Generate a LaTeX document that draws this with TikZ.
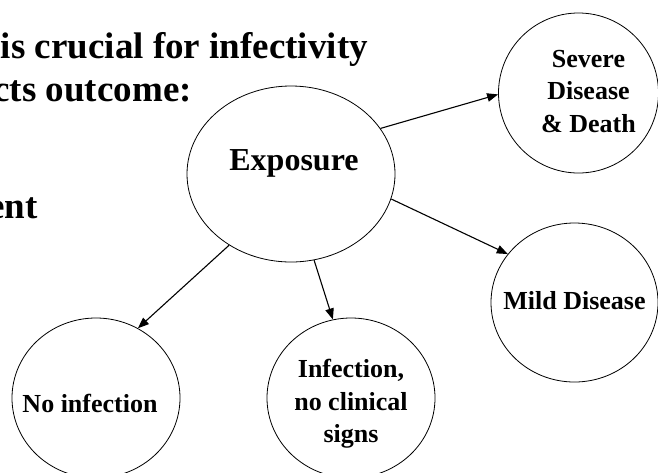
\documentclass[tikz,border=0pt]{standalone}
\usepackage{fontspec}
\setmainfont{Liberation Serif}
\usetikzlibrary{arrows.meta,shapes.geometric}
\tikzset{
	ring/.style={ellipse, draw, line width=0.8pt, inner sep=0pt, minimum width=168pt, minimum height=160pt},
	tag/.style={align=center, inner sep=0pt, font=\bfseries\fontsize{26}{32.5}\selectfont},
	heading/.style={anchor=base east, inner sep=0pt, font=\bfseries\fontsize{37}{43}\selectfont},
	leadsto/.style={-{Triangle[length=11pt,width=8.5pt]}, line width=1.1pt}
}

\begin{document}
\begin{tikzpicture}[x=1pt, y=-1pt]
	\useasboundingbox (0,0) rectangle (658,472);
	\node[heading] (head1) at (368,58) {is crucial for infectivity};
	\node[heading] (head2) at (192,101) {cts outcome:};
	\node[heading] (head3) at (38,218) {ent};

	\node[ring, minimum width=208pt, minimum height=176pt,
		label={[tag, font=\bfseries\fontsize{32}{38}\selectfont, xshift=3pt, yshift=11pt]center:Exposure}] (exp) at (291,174) {};
	\node[ring, minimum width=160pt, minimum height=160pt,
		label={[tag, xshift=10pt, yshift=1.5pt]center:{Severe\\Disease\\\& Death}}] (severe) at (578.5,93) {};
	\node[ring, minimum width=167pt, minimum height=159pt,
		label={[tag, yshift=2pt]center:Mild Disease}] (mild) at (574.5,302.5) {};
	\node[ring, label={[tag, xshift=-6pt, yshift=-5pt]center:No infection}] (noinf) at (96,398) {};
	\node[ring, label={[tag, yshift=-6pt]center:{Infection,\\no clinical\\signs}}] (inf) at (351,398) {};

	\draw[leadsto] (exp.27) -- (severe.181);
	\draw[leadsto] (exp.346) -- (mild.144);
	\draw[leadsto] (exp.229) -- (noinf.59);
	\draw[leadsto] (exp.285) -- (inf.103);
\end{tikzpicture}
\end{document}
